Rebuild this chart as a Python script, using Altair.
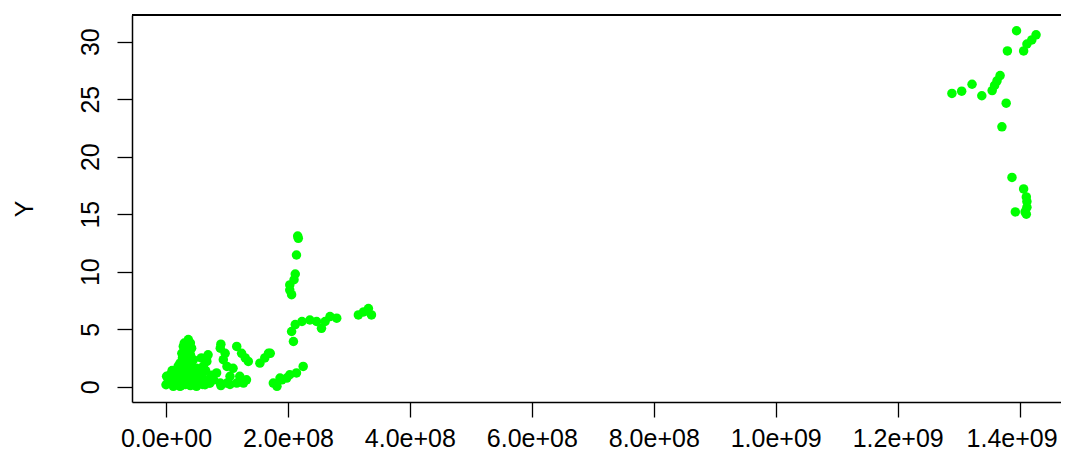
import altair as alt
import pandas as pd

# x values (raw units) and y values
x_vals = [
    # lower-left blob
    3.66e7, 2.84e7, 4.2e7, 2.6e7, 3.66e7, 4.5e7, 2.3e7, 3.1e7, 3.9e7, 4.8e7,
    1.0e6, 6.6e6, 0.0, 1.2e7, 2.3e7, 5.0e7, 6.4e7, 6.9e7, 6.7e7, 6.1e7,
    5.9e7, 6.9e7, 8.9e7, 9.7e7, 9.4e7, 1.16e8, 1.24e8, 1.30e8, 1.0e8, 1.10e8,
    1.05e8, 1.21e8, 1.16e8, 8.9e7, 7.8e7, 1.27e8, 1.0e8, 8.3e7, 3.8e6, 1.76e7,
    2.8e7, 5.3e7, 1.76e7, 3.2e7, 4.0e7, 5.5e7, 8.0e6, 2.0e7, 3.0e7, 9.0e7,
    5.0e6, 1.5e7, 2.5e7, 3.5e7, 4.5e7, 5.5e7, 6.0e7, 1.0e7, 2.7e7, 3.3e7,
    4.0e7, 3.0e7, 4.3e7, 2.0e7, 5.0e7, 6.5e7, 7.2e7, 3.5e7, 4.0e7, 2.5e7,
    1.5e7, 4.0e7, 5.8e7, 9.0e7, 1.35e8, 1.32e8, 1.05e8, 7.5e7,
    # lower ramp near 2e8
    1.76e8, 1.82e8, 1.90e8, 1.98e8, 2.03e8, 2.14e8, 2.25e8, 1.87e8,
    # small diagonal pair
    1.54e8, 1.62e8, 1.68e8, 1.71e8,
    # vertical column near 2.1e8
    2.16e8, 2.17e8, 2.14e8, 2.12e8, 2.10e8, 2.03e8, 2.03e8, 2.06e8,
    # horizontal ramp
    2.09e8, 2.06e8, 2.12e8, 2.23e8, 2.36e8, 2.47e8, 2.55e8, 2.61e8, 2.69e8, 2.80e8,
    # cluster near 3.3e8
    3.155e8, 3.24e8, 3.32e8, 3.37e8,
    # top-right cluster
    1.395e9, 1.427e9, 1.420e9, 1.412e9, 1.4066e9, 1.380e9, 1.368e9, 1.363e9,
    1.359e9, 1.355e9, 1.338e9, 1.322e9, 1.305e9, 1.289e9, 1.378e9, 1.371e9,
    1.3875e9, 1.4066e9, 1.411e9, 1.412e9, 1.412e9, 1.409e9, 1.393e9, 1.411e9,
]
y_vals = [
    4.1, 3.5, 3.35, 2.9, 2.6, 2.35, 2.05, 1.6, 1.2, 0.9,
    0.9, 1.04, 0.17, 0.03, 0.03, 0.03, 0.17, 2.77, 2.2, 1.76,
    1.04, 0.6, 3.35, 2.9, 2.35, 3.5, 2.9, 2.5, 1.76, 1.6,
    0.9, 0.9, 0.32, 0.32, 0.6, 0.32, 0.32, 1.2, 0.46, 0.6,
    0.46, 0.46, 1.47, 0.2, 0.1, 0.7, 0.5, 0.3, 0.8, 0.1,
    0.5, 0.8, 1.2, 0.5, 0.3, 1.2, 0.2, 1.4, 2.5, 3.0,
    2.8, 3.8, 1.8, 1.8, 1.6, 1.4, 0.3, 1.9, 3.8, 0.1,
    0.2, 1.0, 2.5, 3.7, 2.2, 0.6, 0.2, 1.0,
    0.32, 0.03, 0.6, 0.75, 1.04, 1.2, 1.76, 0.75,
    2.05, 2.5, 2.9, 2.9,
    13.1, 12.9, 11.45, 9.8, 9.3, 8.85, 8.4, 8.0,
    3.93, 4.8, 5.4, 5.67, 5.8, 5.67, 5.08, 5.67, 6.1, 5.96,
    6.24, 6.5, 6.8, 6.24,
    30.95, 30.6, 30.15, 29.8, 29.2, 29.2, 27.05, 26.6,
    26.2, 25.75, 25.3, 26.3, 25.7, 25.5, 24.65, 22.6,
    18.2, 17.2, 16.5, 16.1, 15.6, 15.2, 15.2, 15.0,
]

x_ticks = [0, 2e8, 4e8, 6e8, 8e8, 1e9, 1.2e9, 1.4e9]
y_ticks = [0, 5, 10, 15, 20, 25, 30]

df = pd.DataFrame({"X": x_vals, "Y": y_vals})

W, H = 929, 387
FONT = "Liberation Sans"

points = alt.Chart(df).mark_circle(size=90, color="#00FF00", opacity=1).encode(
    x=alt.X(
        "X:Q",
        scale=alt.Scale(domain=[-5.576e7, 1.4679e9], nice=False, zero=False),
        axis=alt.Axis(
            values=x_ticks,
            title=None,
            grid=False,
            labelExpr="replace(format(datum.value, '.1e'), regexp('e\\\\+(\\\\d)$'), 'e+0$1')",
            labelFont=FONT,
            labelFontSize=25,
            labelColor="#000000",
            labelPadding=9,
            labelOffset={"condition": {"test": "datum.value >= 1.3e9", "value": -8}, "value": 0},
            tickSize=15,
            tickColor="#000000",
            tickWidth=1.3,
            domainColor="#000000",
            domainWidth=1.5,
            labelFlush=False,
            labelOverlap=False,
        ),
    ),
    y=alt.Y(
        "Y:Q",
        scale=alt.Scale(domain=[-1.33, 32.32], nice=False, zero=False),
        axis=alt.Axis(
            values=y_ticks,
            title="Y",
            grid=False,
            labelAngle=270,
            labelAlign="center",
            labelBaseline="bottom",
            labelFont=FONT,
            labelFontSize=25,
            labelColor="#000000",
            labelPadding=14,
            tickSize=15,
            tickColor="#000000",
            tickWidth=1.3,
            domainColor="#000000",
            domainWidth=1.5,
            titleFont=FONT,
            titleFontSize=25,
            titleFontWeight="normal",
            titleColor="#000000",
            titleAngle=270,
            titleAlign="center",
            titleBaseline="middle",
            titleX=-108,
            titleY=H / 2,
            labelFlush=False,
            labelOverlap=False,
        ),
    ),
)

top_border = alt.Chart(df).mark_rule(color="#000000", strokeWidth=1.5).encode(
    x=alt.value(0), x2=alt.value(W), y=alt.value(0)
)

chart = (
    alt.layer(points, top_border)
    .properties(
        width=W,
        height=H,
        autosize=alt.AutoSizeParams(type="none"),
        padding={"left": 124, "top": 7, "right": 0, "bottom": 49},
        background="#FFFFFF",
    )
    .configure_view(stroke=None)
)

chart.save("out.html", embed_options={"renderer": "svg", "actions": False})
